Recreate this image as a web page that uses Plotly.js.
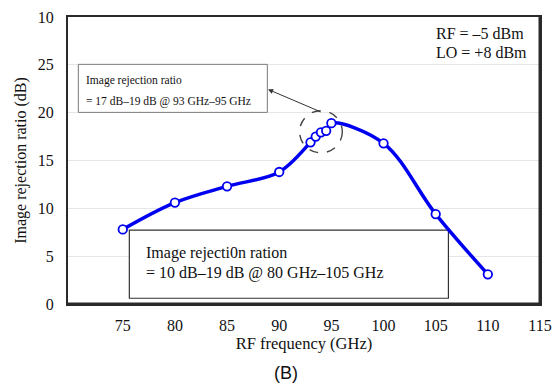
<!DOCTYPE html>
<html>
<head>
<meta charset="utf-8">
<script src="https://cdn.plot.ly/plotly-3.0.1.min.js"></script>
<style>html,body{margin:0;padding:0;background:#fff;}#chart{width:560px;height:385px;}</style>
</head>
<body>
<div id="chart"></div>
<script>
// ---- data ----
var rfFrequency = [75, 80, 85, 90, 93, 93.5, 94, 94.5, 95, 100, 105, 110];
var rejectionRatio = [7.8, 10.6, 12.3, 13.8, 16.9, 17.5, 17.95, 18.1, 18.9, 16.8, 9.4, 3.1];
var xTickValues = [75, 80, 85, 90, 95, 100, 105, 110, 115];
var yTickValues = [0, 5, 10, 15, 20, 25, 30];
var yTickLabels = ['0', '5', '10', '15', '20', '25', '10'];
var noteTopTitle = 'Image rejection ratio';
var noteTopRange = '= 17 dB\u201319 dB @ 93 GHz\u201395 GHz';
var noteBottomTitle = 'Image rejecti0n ration';
var noteBottomRange = '= 10 dB\u201319 dB @ 80 GHz\u2013105 GHz';
var conditionRF = 'RF = \u20135 dBm';
var conditionLO = 'LO = +8 dBm';

var serif = 'Liberation Serif, Times New Roman, serif';

var trace = {
  x: rfFrequency,
  y: rejectionRatio,
  type: 'scatter',
  mode: 'lines+markers',
  line: {color: '#0000f0', width: 3.5, shape: 'spline', smoothing: 1},
  marker: {symbol: 'circle', size: 8.5, color: '#ffffff', line: {color: '#0000f0', width: 1.8}},
  hoverinfo: 'x+y'
};

function txt(x, y, t, size) {
  return {x: x, y: y, xref: 'x', yref: 'y', text: t, showarrow: false,
    xanchor: 'left', yanchor: 'middle', align: 'left',
    font: {family: serif, size: size, color: '#111'}};
}

var layout = {
  width: 560, height: 385,
  margin: {l: 68, r: 20, t: 17, b: 81},
  paper_bgcolor: '#ffffff', plot_bgcolor: '#ffffff',
  showlegend: false,
  font: {family: serif, size: 16, color: '#111'},
  xaxis: {
    range: [69.75, 115],
    tickvals: xTickValues,
    showgrid: false, zeroline: false,
    showline: true, mirror: true, linecolor: '#2a2a2a', linewidth: 2,
    ticks: '', ticklabelstandoff: 6,
    tickfont: {family: serif, size: 16, color: '#111'},
    title: {text: 'RF frequency (GHz)', font: {family: serif, size: 16.5, color: '#111'}, standoff: 4}
  },
  yaxis: {
    range: [0, 30],
    tickvals: yTickValues,
    ticktext: yTickLabels,
    showgrid: true, gridcolor: '#e6e6e6', gridwidth: 1, zeroline: false,
    showline: true, mirror: true, linecolor: '#2a2a2a', linewidth: 2,
    ticks: '', ticklabelstandoff: 9,
    tickfont: {family: serif, size: 16, color: '#111'},
    title: {text: 'Image rejection ratio (dB)', font: {family: serif, size: 16, color: '#111'}, standoff: 7}
  },
  shapes: [
    {type: 'rect', xref: 'x', yref: 'y', x0: 70.74, x1: 88.86, y0: 20.03, y1: 25.05,
      layer: 'between', fillcolor: '#ffffff', line: {color: '#7a7a7a', width: 1}},
    {type: 'rect', xref: 'x', yref: 'y', x0: 75.63, x1: 106.22, y0: 0.6, y1: 7.73,
      layer: 'between', fillcolor: '#ffffff', line: {color: '#333333', width: 1.2}},
    {type: 'circle', xref: 'x', yref: 'y', x0: 91.95, x1: 96.05, y0: 15.8, y1: 20.2,
      layer: 'above', line: {color: '#444444', width: 1.4, dash: 'dash'}},
    {type: 'line', xref: 'paper', yref: 'paper', x0: 1, x1: 1, y0: 0, y1: 1,
      line: {color: '#2a2a2a', width: 3}},
    {type: 'line', xref: 'paper', yref: 'paper', x0: 0, x1: 1, y0: 0, y1: 0,
      line: {color: '#2a2a2a', width: 3}}
  ],
  annotations: [
    txt(71.29, 23.41, noteTopTitle, 11.5),
    txt(71.29, 21.21, noteTopRange, 11.5),
    txt(77.07, 5.30, noteBottomTitle, 16),
    txt(77.07, 3.21, noteBottomRange, 16),
    txt(104.85, 28.32, conditionRF, 16),
    txt(104.85, 26.33, conditionLO, 16),
    {x: 88.93, y: 22.43, xref: 'x', yref: 'y', ax: 94.11, ay: 20.02, axref: 'x', ayref: 'y',
      text: '', showarrow: true, arrowhead: 2, arrowsize: 1, arrowwidth: 1, arrowcolor: '#333333'},
    {x: 0.462, y: -0.24, xref: 'paper', yref: 'paper', text: '(B)', showarrow: false,
      xanchor: 'center', yanchor: 'middle',
      font: {family: 'Liberation Sans, Arial, sans-serif', size: 18, color: '#111'}}
  ]
};

Plotly.newPlot('chart', [trace], layout, {displayModeBar: false, staticPlot: true});
</script>
</body>
</html>
